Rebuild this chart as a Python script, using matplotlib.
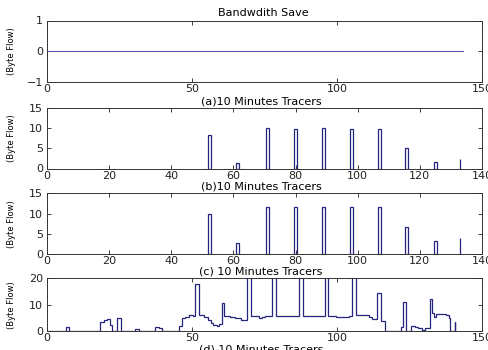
import matplotlib
matplotlib.use('Agg')
import matplotlib.pyplot as plt
import numpy as np

plt.rcParams['font.family'] = ['DejaVu Sans']

# panel 1 (flat line)
bw_x = [0, 143.5]
bw_y = [0, 0]

# panels (a) and (b): pulse centres and heights
pulse_x = [52.3, 61.2, 70.9, 79.9, 89.0, 97.9, 106.9, 115.7, 124.9, 133.0]
pulse_a = [8.2, 1.3, 10.0, 9.8, 10.0, 9.8, 9.8, 5.0, 1.6, 2.3]
pulse_b = [9.8, 2.8, 11.7, 11.5, 11.6, 11.6, 11.6, 6.6, 3.3, 4.0]

# panel (c): step edges and levels
step_edges = [0, 6.4, 7.6, 18.4, 19.6, 20.6, 21.6, 22.5, 24.3, 25.5, 30.5, 31.6,
              37.4, 38.5, 39.5, 45.4, 46.5, 47.6, 49.1, 50.3, 51.1, 52.3, 54.3,
              55.4, 56.4, 57.4, 58.6, 59.4, 60.2, 61.1, 63.0, 64.8, 66.9, 69.0,
              70.3, 73.2, 74.3, 75.3, 77.7, 79.1, 86.9, 88.3, 95.9, 97.0, 99.5,
              104.2, 105.2, 106.4, 111.0, 112.1, 113.9, 115.0, 116.7, 122.2,
              122.7, 123.9, 125.4, 126.8, 128.0, 129.2, 130.2, 131.9, 132.6,
              133.3, 134.3, 137.5, 138.5, 139.1, 140.8, 140.85]
step_vals = [0, 1.5, 0, 3.4, 4.2, 4.6, 2.1, 0, 4.8, 0, 0.6,
             0, 1.6, 1.0, 0, 1.9, 4.8, 5.5, 6.0, 5.7, 18, 6.0,
             5.2, 4.2, 3.0, 2.2, 2.0, 2.6, 10.8, 5.6, 5.3, 5.0, 4.2,
             25, 5.6, 4.8, 5.3, 5.7, 25, 5.8, 25, 5.8, 25, 5.7,
             5.5, 5.8, 25, 6.0, 5.5, 4.7, 14.5, 3.8, 0,
             1.5, 11.0, 0, 2.0, 1.5, 1.0, 0.4, 1.0, 12,
             7.0, 5.5, 6.5, 6.0, 5.0, 0, 3.5]

line_col = '#25257f'
W, H = 488, 350

fig = plt.figure(figsize=(W / 100, H / 100), dpi=100)


def px_axes(top, bottom, left=47, right=482):
    return fig.add_axes([left / W, 1 - bottom / H, (right - left) / W, (bottom - top) / H])


def style(ax, xlim, xticks, ylim, yticks):
    ax.set_xlim(xlim)
    ax.set_ylim(ylim)
    ax.set_xticks(xticks)
    ax.set_yticks(yticks)
    ax.tick_params(direction='in', length=3, width=0.6, labelsize=8,
                   top=True, right=True, colors='#222222', pad=3)
    ax.tick_params(axis='x', pad=1.5)
    for s in ax.spines.values():
        s.set_linewidth(0.7)
        s.set_color('#333333')
    ax.set_ylabel('(Byte Flow)', fontsize=6)
    ax.yaxis.set_label_coords(-0.072, 0.5)


ax1 = px_axes(20.5, 82)
ax1.plot(bw_x, bw_y, color='#5a5ab0', lw=0.8)
style(ax1, (0, 150), [0, 50, 100, 150], (-1, 1), [-1, 0, 1])

ax2 = px_axes(107.7, 168.5)
ax2.bar(pulse_x[:-1], pulse_a[:-1], width=1.0, fill=False, edgecolor=line_col, lw=0.9)
ax2.vlines(pulse_x[-1], 0, pulse_a[-1], color=line_col, lw=0.9)
style(ax2, (0, 140), range(0, 141, 20), (0, 15), [0, 5, 10, 15])

ax3 = px_axes(193.3, 254)
ax3.bar(pulse_x[:-1], pulse_b[:-1], width=1.0, fill=False, edgecolor=line_col, lw=0.9)
ax3.vlines(pulse_x[-1], 0, pulse_b[-1], color=line_col, lw=0.9)
style(ax3, (0, 140), range(0, 141, 20), (0, 15), [0, 5, 10, 15])

ax4 = px_axes(278.3, 331)
ax4.stairs(step_vals, step_edges, color=line_col, lw=0.9)
style(ax4, (0, 150), [0, 50, 100, 150], (0, 20), [0, 10, 20])

fig.text(263 / W, 1 - 12.7 / H, 'Bandwdith Save', ha='center', va='center', fontsize=8)
fig.text(261 / W, 1 - 101 / H, '(a)10 Minutes Tracers', ha='center', va='center', fontsize=8)
fig.text(261 / W, 1 - 186 / H, '(b)10 Minutes Tracers', ha='center', va='center', fontsize=8)
fig.text(261 / W, 1 - 271 / H, '(c) 10 Minutes Tracers', ha='center', va='center', fontsize=8)
fig.text(261 / W, 1 - 349 / H, '(d) 10 Minutes Tracers', ha='center', va='center', fontsize=8)

fig.savefig('out.png', dpi=100)
